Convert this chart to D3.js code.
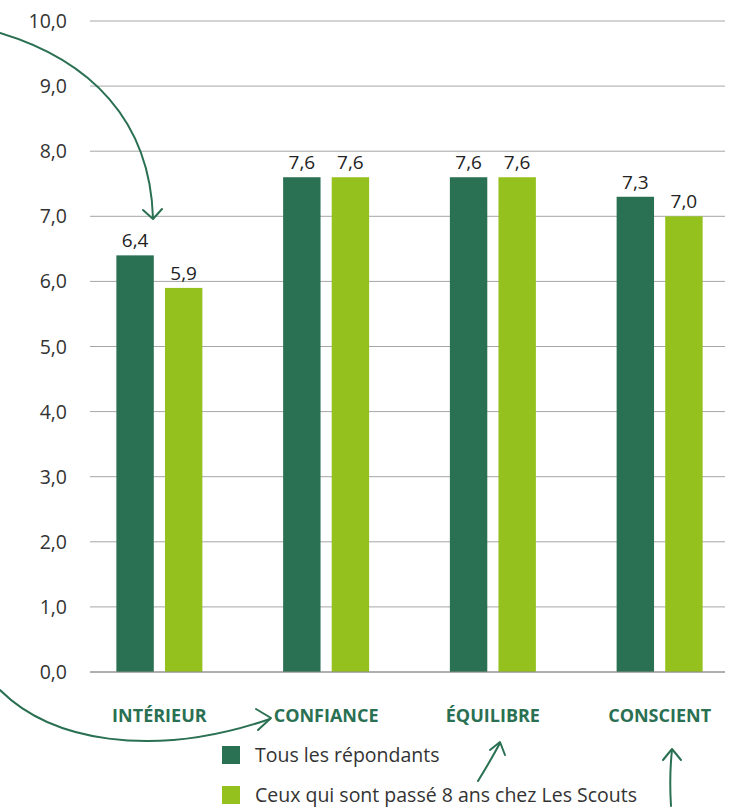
<!DOCTYPE html>
<head>
	<meta charset="utf-8">
	<script src="https://d3js.org/d3.v7.min.js"></script>
	<style>
		body { margin: 0; background: #fff; }
	</style>
</head>
<body>
	<div id="chart"></div>
	<script>

	var width = 737,
	height = 810;

	// data
	var categories = ["INTÉRIEUR", "CONFIANCE", "ÉQUILIBRE", "CONSCIENT"];
	var seriesNames = ["Tous les répondants", "Ceux qui sont passé 8 ans chez Les Scouts"];
	var tous = [6.4, 7.6, 7.6, 7.3];
	var scouts = [5.9, 7.6, 7.6, 7.0];
	var ticks = [0, 1, 2, 3, 4, 5, 6, 7, 8, 9, 10];

	var colors = ["#2a7052", "#95c11f"];
	var green = "#2a7052";
	var fmt = function(v) { return d3.format(".1f")(v).replace(".", ","); };

	var svg = d3.select("#chart").append("svg")
	  .attr("width", width)
	  .attr("height", height)
	  .style("font-family", "'Open Sans', sans-serif");

	var y = d3.scaleLinear().domain([0, 10]).range([672, 21]);
	var x = d3.scaleBand().domain(categories).range([76, 743]);
	var xs = d3.scaleBand().domain([0, 1]).range([-43, 43]).paddingInner(0.23);

	// grid lines
	svg.append("g")
		.selectAll("line")
		.data(ticks)
		.join("line")
		  .attr("x1", 90).attr("x2", 725)
		  .attr("y1", d => y(d)).attr("y2", d => y(d))
		  .attr("stroke", "#a6a6a6")
		  .attr("stroke-width", 1);

	// y axis labels
	svg.append("g")
		.selectAll("text")
		.data(ticks)
		.join("text")
		  .attr("x", 67)
		  .attr("y", d => y(d) + 7)
		  .attr("text-anchor", "end")
		  .attr("font-size", 19.5)
		  .attr("fill", "#333")
		  .text(d => fmt(d));

	// bars
	var rows = categories.map((c, i) => ({cat: c, vals: [tous[i], scouts[i]]}));
	var groups = svg.append("g")
		.selectAll("g")
		.data(rows)
		.join("g")
		  .attr("transform", d => "translate(" + (x(d.cat) + x.bandwidth() / 2) + ",0)");

	groups.selectAll("rect")
		.data(d => d.vals.map((v, j) => ({v: v, j: j})))
		.join("rect")
		  .attr("x", d => xs(d.j))
		  .attr("width", xs.bandwidth())
		  .attr("y", d => y(d.v))
		  .attr("height", d => y(0) - y(d.v))
		  .attr("fill", d => colors[d.j]);

	groups.selectAll("text")
		.data(d => d.vals.map((v, j) => ({v: v, j: j})))
		.join("text")
		  .attr("x", d => xs(d.j) + xs.bandwidth() / 2)
		  .attr("y", d => y(d.v) - 8)
		  .attr("text-anchor", "middle")
		  .attr("font-size", 19)
		  .attr("fill", "#222")
		  .text(d => fmt(d.v));

	// redraw baseline over bars
	svg.append("line")
		.attr("x1", 90).attr("x2", 725)
		.attr("y1", y(0)).attr("y2", y(0))
		.attr("stroke", "#8c8c8c");

	// category labels
	svg.append("g")
		.selectAll("text")
		.data(categories)
		.join("text")
		  .attr("x", d => x(d) + x.bandwidth() / 2)
		  .attr("y", 722)
		  .attr("text-anchor", "middle")
		  .attr("font-weight", "bold")
		  .attr("font-size", 18)
		  .attr("fill", green)
		  .text(d => d);

	// legend
	var legend = svg.append("g")
		.selectAll("g")
		.data(seriesNames)
		.join("g")
		  .attr("transform", (d, i) => "translate(222," + (746 + i * 40) + ")");
	legend.append("rect")
		.attr("width", 18).attr("height", 18)
		.attr("fill", (d, i) => colors[i]);
	legend.append("text")
		.attr("x", 33).attr("y", 16)
		.attr("font-size", 19.5)
		.attr("fill", "#333")
		.text(d => d);

	// hand-drawn arrows
	var arrows = svg.append("g")
		.attr("fill", "none")
		.attr("stroke", green)
		.attr("stroke-width", 2)
		.attr("stroke-linecap", "round")
		.attr("stroke-linejoin", "round");
	arrows.append("path").attr("d", "M0,33 C90,60 150,120 153,218");
	arrows.append("path").attr("d", "M143,210 L153,219 L162,209");
	arrows.append("path").attr("d", "M0,690 C50,740 150,760 270,719");
	arrows.append("path").attr("d", "M256,709 L271,718 L258,730");
	arrows.append("path").attr("d", "M478,781 C486,768 493,756 500,743");
	arrows.append("path").attr("d", "M490,750 L500,742 L505,755");
	arrows.append("path").attr("d", "M671,806 C670,790 670,768 672,750");
	arrows.append("path").attr("d", "M663,760 L672,749 L681,760");

</script>
</body>
<html>
